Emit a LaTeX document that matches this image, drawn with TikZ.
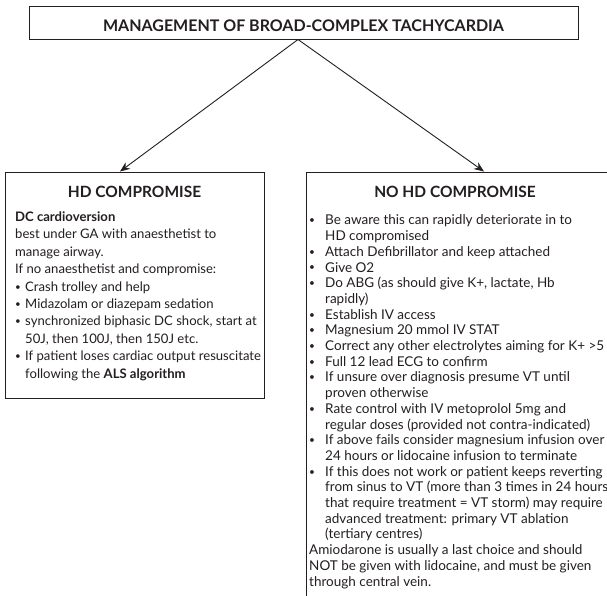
\documentclass[tikz,border=0pt]{standalone}
\usepackage{fontspec}
\setmainfont{Lato}
\usetikzlibrary{arrows.meta}
\definecolor{ink}{HTML}{231F20}
\newlength\bulind
\newcommand\itm{\makebox[\bulind][l]{\raisebox{0.15ex}{\scalebox{0.75}{\textbullet}}}}
\newcommand\cnt{\hspace*{\bulind}}
\begin{document}
\begin{tikzpicture}[x=1pt,y=-1pt,
  frame/.style={draw=ink, line width=1pt, inner sep=0pt,
    preaction={draw=ink!45, line width=1pt, transform canvas={shift={(0.9pt,-0.9pt)}}}},
  arr/.style={draw=ink, line width=0.9pt, -{Stealth[length=10pt,width=8pt]}},
  head/.style={font=\fontsize{15.5}{18}\selectfont\bfseries, text=ink, inner sep=0pt, anchor=base},
  body/.style={text=ink, inner sep=0pt, anchor=base west, align=left},
]
\clip (0,0) rectangle (607,595);
\useasboundingbox (0,0) rectangle (607,595);
\fill[white] (0,0) rectangle (607,595);

% boxes
\node[frame, minimum width=549pt, minimum height=33pt] (title) at (303.5,22.5) {};
\node[head, font=\fontsize{16}{18}\selectfont\bfseries] (titletxt) at (303.5,31)
      {MANAGEMENT OF BROAD-COMPLEX TACHYCARDIA};
\node[frame, minimum width=259pt, minimum height=226pt] (hd) at (134.5,285) {};
\node[frame, minimum width=334pt, minimum height=460pt] (nohd) at (473,402) {};

% connectors
\coordinate (apex) at ([xshift=-5.5pt]title.south);
\draw[arr] (apex) -- ([xshift=-14.5pt]hd.north);
\draw[arr] (apex) -- ([xshift=11pt]nohd.north);

% headings
\node[head] (hdhead) at (134.5,197) {HD COMPROMISE};
\node[head] (nohdhead) at (455,197) {NO HD COMPROMISE};

% left box text (anchored at the baseline of its last line)
\node[body, font=\fontsize{13.1}{17.4}\selectfont\setlength\bulind{10pt}] (hdtext) at (15,378) {%
\textbf{DC cardioversion}\\
best under GA with anaesthetist to\\
manage airway.\\
If no anaesthetist and compromise:\\
\itm Crash trolley and help\\
\itm Midazolam or diazepam sedation\\
\itm synchronized biphasic DC shock, start at\\
\cnt 50J, then 100J, then 150J etc.\\
\itm If patient loses cardiac output resuscitate\\
\cnt following the \textbf{ALS algorithm}};

% right box text
\node[body, font=\fontsize{13.5}{15.7}\selectfont\setlength\bulind{16pt}] (nohdtext) at (309,586) {%
\itm Be aware this can rapidly deteriorate in to\\
\cnt HD compromised\\
\itm Attach Defibrillator and keep attached\\
\itm Give O2\\
\itm Do ABG (as should give K+, lactate, Hb\\
\cnt rapidly)\\
\itm Establish IV access\\
\itm Magnesium 20 mmol IV STAT\\
\itm Correct any other electrolytes aiming for K+ >5\\
\itm Full 12 lead ECG to confirm\\
\itm If unsure over diagnosis presume VT until\\
\cnt proven otherwise\\
\itm Rate control with IV metoprolol 5mg and\\
\cnt regular doses (provided not contra-indicated)\\
\itm If above fails consider magnesium infusion over\\
\cnt 24 hours or lidocaine infusion to terminate\\
\itm If this does not work or patient keeps reverting\\
\cnt from sinus to VT (more than 3 times in 24 hours\\
\cnt that require treatment = VT storm) may require\\
\cnt advanced treatment: primary VT ablation\\
\cnt (tertiary centres)\\
Amiodarone is usually a last choice and should\\
NOT be given with lidocaine, and must be given\\
through central vein.};
\end{tikzpicture}
\end{document}
